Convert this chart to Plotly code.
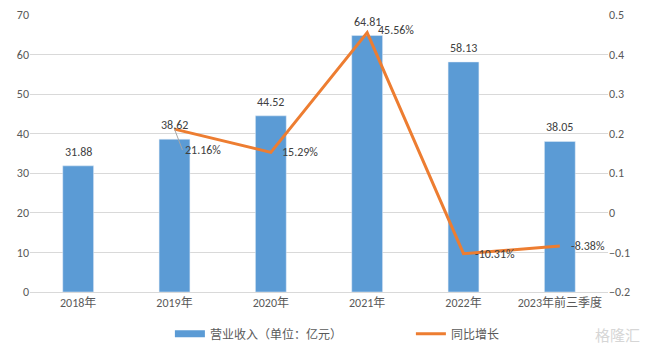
import plotly.graph_objects as go

categories = ["2018年", "2019年", "2020年", "2021年", "2022年", "2023年前三季度"]
revenue = [31.88, 38.62, 44.52, 64.81, 58.13, 38.05]
growth_cats = ["2019年", "2020年", "2021年", "2022年", "2023年前三季度"]
growth = [0.2116, 0.1529, 0.4556, -0.1031, -0.0838]
growth_labels = ["21.16%", "15.29%", "45.56%", "-10.31%", "-8.38%"]

FONT = "Calibri, 'Noto Sans CJK SC', 'Liberation Sans', sans-serif"
TXT = "#404040"
BLUE = "#5B9BD5"
ORANGE = "#ED7D31"

fig = go.Figure()
fig.add_trace(go.Bar(
    x=categories, y=revenue, name="营业收入（单位：亿元）",
    marker_color=BLUE, width=0.32, showlegend=False,
))
# legend entry for bars (wide flat swatch, as in the reference)
fig.add_trace(go.Scatter(
    x=[None], y=[None], name="营业收入（单位：亿元）", mode="lines",
    line=dict(color=BLUE, width=7),
))
fig.add_trace(go.Scatter(
    x=growth_cats, y=growth, name="同比增长", yaxis="y2",
    mode="lines", line=dict(color=ORANGE, width=3),
))

for c, v in zip(categories, revenue):
    fig.add_annotation(x=c, y=v, text=f"{v:.2f}", showarrow=False,
                       yanchor="middle", yshift=14, borderpad=0,
                       font=dict(size=12, color=TXT, family=FONT))

for i, (c, v, t) in enumerate(zip(growth_cats, growth, growth_labels)):
    if i == 0:
        fig.add_annotation(
            x=c, y=v, yref="y2", text=t,
            showarrow=True, arrowhead=0, arrowwidth=1, arrowcolor="#a6a6a6",
            ax=8, ay=21, xanchor="left", yanchor="middle",
            font=dict(size=12, color=TXT, family=FONT),
        )
    else:
        fig.add_annotation(x=c, y=v, yref="y2", text=t, showarrow=False,
                           xanchor="left", yanchor="middle", xshift=10,
                           yshift=(3 if i == 2 else 0), borderpad=0,
                           font=dict(size=12, color=TXT, family=FONT))

fig.add_annotation(
    x=1.059, y=-0.152, xref="paper", yref="paper", xanchor="right", yanchor="middle",
    text="格隆汇", showarrow=False,
    font=dict(size=15, color="#d6d6d6", family="'Noto Sans CJK SC'"),
)

fig.update_layout(
    width=646, height=354,
    margin=dict(l=30, r=38, t=15, b=62, autoexpand=False),
    plot_bgcolor="white", paper_bgcolor="white",
    font=dict(family=FONT, size=12, color="#595959"),
    bargap=0.68,
    showlegend=True,
    legend=dict(orientation="h", xref="container", x=0.263, xanchor="left",
                yref="container", y=0.057, yanchor="middle",
                entrywidth=196, entrywidthmode="pixels",
                font=dict(size=12, color="#595959")),
    xaxis=dict(showline=True, linecolor="#d9d9d9", ticks="", tickfont=dict(size=12, color="#595959")),
    yaxis=dict(range=[0, 70], dtick=10, showgrid=True, gridcolor="#d9d9d9",
               zeroline=False, ticks="", tickfont=dict(size=12, color="#595959")),
    yaxis2=dict(range=[-0.2, 0.5], dtick=0.1, overlaying="y", side="right",
                showgrid=False, zeroline=False, tickformat=".1~f",
                tickfont=dict(size=12, color="#595959")),
)
fig.write_html("out.html")
